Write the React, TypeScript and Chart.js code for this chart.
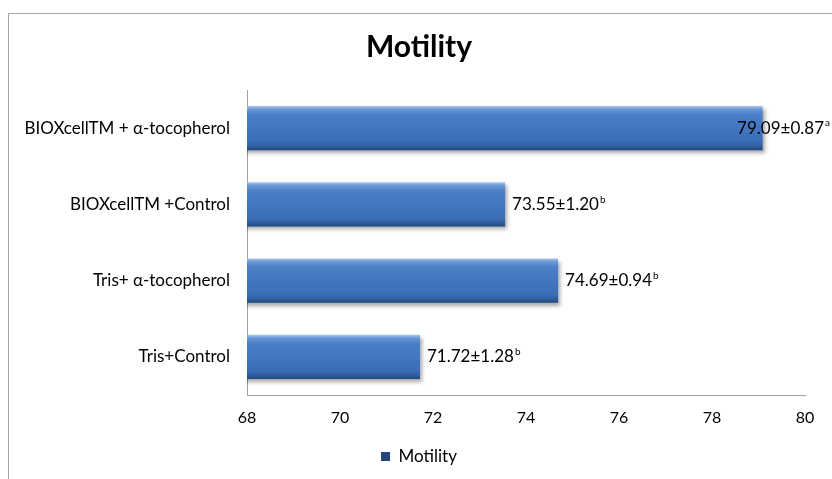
import React, { useEffect, useRef } from "react";
import { Chart, registerables } from "chart.js";

Chart.register(...registerables);

const categories = [
  "BIOXcellTM + α-tocopherol",
  "BIOXcellTM +Control",
  "Tris+ α-tocopherol",
  "Tris+Control",
];
const motility = [79.09, 73.55, 74.69, 71.72];
const errors = ["0.87", "1.20", "0.94", "1.28"];
const letters = ["a", "b", "b", "b"];
const xTicks = [68, 70, 72, 74, 76, 78, 80];

const FONT = "Lato, 'Open Sans', sans-serif";
const BAR_FRACTION = 0.58;

export default function App() {
  const ref = useRef<HTMLCanvasElement | null>(null);

  useEffect(() => {
    document.body.style.margin = "0";
    const canvas = ref.current;
    if (!canvas) return;

    const framePlugin = {
      id: "frame",
      beforeDraw(chart: any) {
        const ctx = chart.ctx;
        ctx.save();
        ctx.fillStyle = "#ffffff";
        ctx.fillRect(0, 0, chart.width, chart.height);
        ctx.strokeStyle = "#a6a6a6";
        ctx.lineWidth = 1;
        ctx.strokeRect(8.5, 13.5, 1000, 1000);
        ctx.restore();
      },
    };

    const shadowPlugin = {
      id: "barShadow",
      beforeDatasetDraw(chart: any) {
        const ctx = chart.ctx;
        ctx.save();
        ctx.shadowColor = "rgba(0,0,0,0.35)";
        ctx.shadowOffsetX = 2;
        ctx.shadowOffsetY = 3;
        ctx.shadowBlur = 4;
      },
      afterDatasetDraw(chart: any) {
        chart.ctx.restore();
      },
    };

    const labelPlugin = {
      id: "valueLabels",
      afterDatasetsDraw(chart: any) {
        const ctx = chart.ctx;
        const meta = chart.getDatasetMeta(0);
        ctx.save();
        meta.data.forEach((el: any, i: number) => {
          const main = `${motility[i].toFixed(2)}±${errors[i]}`;
          const sup = letters[i];
          ctx.font = `17px ${FONT}`;
          const wMain = ctx.measureText(main).width;
          ctx.font = `10px ${FONT}`;
          const wSup = ctx.measureText(sup).width;
          const total = wMain + 1 + wSup;
          let x = el.x + 7;
          if (x + total > 830) x = 830 - total;
          const y = el.y;
          ctx.fillStyle = "#000000";
          ctx.textBaseline = "middle";
          ctx.textAlign = "left";
          ctx.font = `17px ${FONT}`;
          ctx.fillText(main, x, y);
          ctx.font = `10px ${FONT}`;
          ctx.fillText(sup, x + wMain + 1, y - 5);
        });
        ctx.restore();
      },
    };

    const chart = new Chart(canvas, {
      type: "bar",
      data: {
        labels: categories,
        datasets: [
          {
            label: "Motility",
            data: motility,
            barPercentage: 0.58 / 0.8,
            categoryPercentage: 0.8,
            borderWidth: 0,
            backgroundColor: (context: any) => {
              const c = context.chart;
              const ys = c.scales && c.scales.y;
              if (context.dataIndex === undefined || !c.chartArea || !ys) return "#3d72ba";
              const cy = ys.getPixelForValue(context.dataIndex);
              const h = (ys.height / categories.length) * BAR_FRACTION;
              const g = c.ctx.createLinearGradient(0, cy - h / 2, 0, cy + h / 2);
              g.addColorStop(0, "#a9c8ee");
              g.addColorStop(0.07, "#6b9ad6");
              g.addColorStop(0.2, "#4a7fc6");
              g.addColorStop(0.8, "#3a6fb8");
              g.addColorStop(0.93, "#2d5b97");
              g.addColorStop(1, "#22467a");
              return g;
            },
          },
        ],
      },
      options: {
        indexAxis: "y",
        responsive: false,
        animation: false,
        layout: { padding: { left: 6, right: 0, top: 0, bottom: 4 } },
        scales: {
          x: {
            type: "linear",
            min: 68,
            max: 80,
            afterBuildTicks: (scale: any) => {
              scale.ticks = xTicks.map((v) => ({ value: v }));
            },
            afterFit: (scale: any) => {
              scale.height = 45;
            },
            grid: { display: false, drawTicks: false },
            border: { display: true, color: "#a0a0a0", width: 1 },
            ticks: {
              color: "#000000",
              font: { family: FONT, size: 16 },
              padding: 13,
              maxRotation: 0,
            },
          },
          y: {
            type: "category",
            afterFit: (scale: any) => {
              scale.width = 241;
            },
            grid: { display: false, drawTicks: false },
            border: { display: true, color: "#a0a0a0", width: 1 },
            ticks: {
              color: "#000000",
              font: { family: FONT, size: 17 },
              padding: 17,
            },
          },
          yRight: {
            type: "category",
            position: "right",
            afterFit: (scale: any) => {
              scale.width = 27;
            },
            grid: { display: false, drawTicks: false },
            border: { display: false },
            ticks: { display: false },
          },
        },
        plugins: {
          title: {
            display: true,
            text: "Motility",
            color: "#000000",
            font: { family: FONT, size: 30, weight: "bold" },
            padding: { top: 29, bottom: 25 },
          },
          legend: {
            display: true,
            position: "bottom",
            labels: {
              color: "#000000",
              font: { family: FONT, size: 17 },
              boxWidth: 9,
              boxHeight: 9,
              padding: 8,
            },
          },
          tooltip: { enabled: false },
        },
      },
      plugins: [framePlugin, shadowPlugin, labelPlugin],
    } as any);

    return () => chart.destroy();
  }, []);

  return (
    <div style={{ width: 832, height: 479, position: "relative" }}>
      <canvas ref={ref} width={832} height={479} />
    </div>
  );
}
